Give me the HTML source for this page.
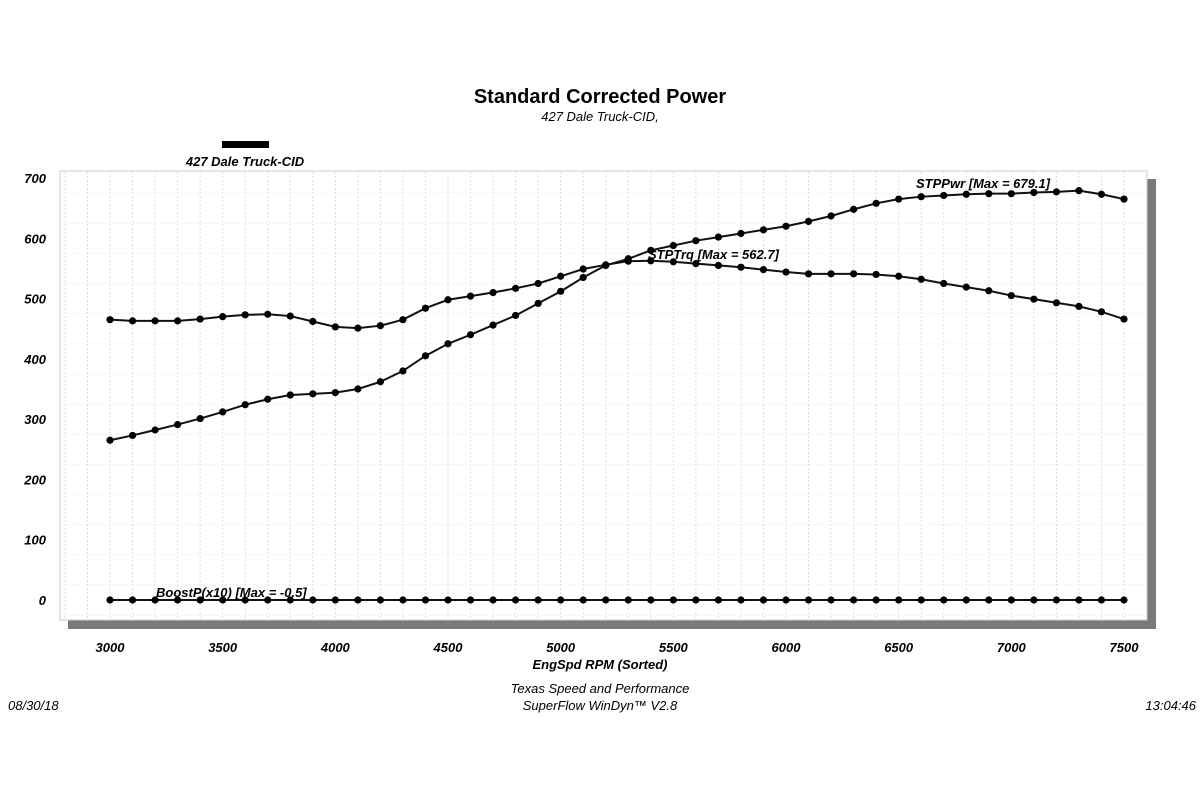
<!DOCTYPE html>
<html><head><meta charset="utf-8"><style>
body{margin:0;background:#fff;width:1200px;height:800px;overflow:hidden;font-family:"Liberation Sans",sans-serif}
</style></head><body>
<svg id="c" width="1200" height="800" xmlns="http://www.w3.org/2000/svg" font-family="Liberation Sans, sans-serif">
<text x="600" y="103" text-anchor="middle" font-size="20" font-weight="bold">Standard Corrected Power</text>
<text x="600" y="121" text-anchor="middle" font-size="13" font-style="italic">427 Dale Truck-CID,</text>
<rect x="222" y="141" width="47" height="7" fill="#000"/>
<text x="245" y="166" text-anchor="middle" font-size="13" font-weight="bold" font-style="italic">427 Dale Truck-CID</text>
<rect x="68" y="179" width="1088" height="450" fill="#7a7a7a"/>
<rect x="60" y="171" width="1087" height="449" fill="#fff" stroke="#ccc"/>
<g id="grid"></g><g id="ticks"></g><g id="series"></g>
<text x="600" y="669" text-anchor="middle" font-size="13" font-weight="bold" font-style="italic">EngSpd  RPM  (Sorted)</text>
<text x="600" y="693" text-anchor="middle" font-size="13" font-style="italic">Texas Speed and Performance</text>
<text x="600" y="710" text-anchor="middle" font-size="13" font-style="italic">SuperFlow WinDyn™  V2.8</text>
<text x="8" y="710" font-size="13" font-style="italic">08/30/18</text>
<text x="1196" y="710" text-anchor="end" font-size="13" font-style="italic">13:04:46</text>
</svg>
<script>
const rpm=[];for(let r=3000;r<=7500;r+=100)rpm.push(r);
const torque=[465,463,463,463,466,470,473,474,471,462,453,451,455,465,484,498,504,510,517,525,537,549,556,562,562.7,561,558,555,552,548,544,541,541,541,540,537,532,525,519,513,505,499,493,487,478,466];
const power=[265,273,282,291,301,312,324,333,340,342,344,350,362,380,405,425,440,456,472,492,512,535,555,566,580,588,596,602,608,614,620,628,637,648,658,665,669,671,673,674,674,676,677,679,673,665];
const boost=[0,0,0,0,0,0,0,0,0,0,0,0,0,0,0,0,0,0,0,0,0,0,0,0,0,0,0,0,0,0,0,0,0,0,0,0,0,0,0,0,0,0,0,0,0,0];
const xTicks=[3000,3500,4000,4500,5000,5500,6000,6500,7000,7500];
const yTicks=[0,100,200,300,400,500,600,700];
const NS="http://www.w3.org/2000/svg";
const X=v=>110+(v-3000)*(1124-110)/4500;
const Y=v=>600-v*(600-178)/700;
function mk(t,a,p){const e=document.createElementNS(NS,t);for(const k in a)e.setAttribute(k,a[k]);p.appendChild(e);return e;}
const g=document.getElementById('grid'),tk=document.getElementById('ticks'),s=document.getElementById('series');
for(let r=2800;r<=7600;r+=100){const x=X(r);if(x<62||x>1145)continue;
 const l=mk('line',{x1:x,x2:x,y1:172,y2:619,stroke:'#ddd','stroke-dasharray':'2,2'},g);
 }
for(let v=-25;v<=725;v+=50){const y=Y(v);if(y<173||y>618)continue;
 const l=mk('line',{x1:61,x2:1146,y1:y,y2:y,stroke:v%100===0?'#d0d0d0':'#eee','stroke-dasharray':'2,2'},g);
 }
xTicks.forEach(v=>{const t=mk('text',{x:X(v),y:652,'text-anchor':'middle','font-size':13,'font-weight':'bold','font-style':'italic'},tk);t.textContent=v;
 });
yTicks.forEach(v=>{const t=mk('text',{x:46,y:Y(v)+5,'text-anchor':'end','font-size':13,'font-weight':'bold','font-style':'italic'},tk);t.textContent=v;
 });
function series(vals,name){const pts=vals.map((v,i)=>X(rpm[i])+','+Y(v)).join(' ');
 const pl=mk('polyline',{points:pts,fill:'none',stroke:'#111','stroke-width':2},s);
 
 vals.forEach((v,i)=>{const c=mk('circle',{cx:X(rpm[i]),cy:Y(v),r:3.6,fill:'#000'},s);
  });}
series(torque,'torque');series(power,'power');series(boost,'boost');
function lab(x,y,txt,name){const t=mk('text',{x:x,y:y,'font-size':13,'font-weight':'bold','font-style':'italic'},s);t.textContent=txt;
 }
lab(916,188,'STPPwr [Max = 679.1]','power-label');
lab(648,259,'STPTrq [Max = 562.7]','torque-label');
lab(156,597,'BoostP(x10) [Max = -0.5]','boost-label');
</script>
</body></html>
